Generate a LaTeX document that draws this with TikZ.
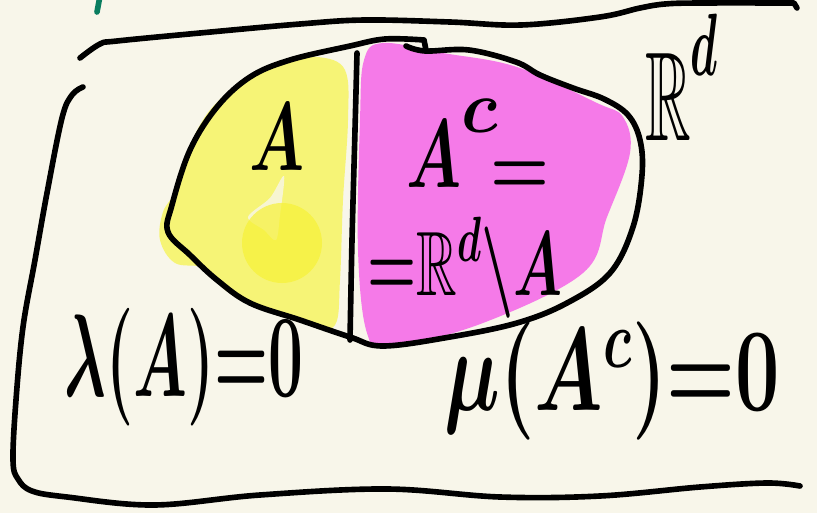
\RequirePackage{fix-cm}
\documentclass[tikz,border=0pt]{standalone}
\usepackage{amsmath}
\usepackage{amssymb}
\usepackage{xcolor}
\usepackage{tikz}
\definecolor{paper}{RGB}{248,246,234}
\definecolor{hlYellow}{RGB}{246,244,118}
\definecolor{hlDeep}{RGB}{246,242,55}
\definecolor{hlPink}{RGB}{245,122,232}
\definecolor{inkGreen}{RGB}{10,125,95}

\begin{document}
\begin{tikzpicture}[
  x=0.025cm, y=-0.025cm,
  pen/.style={line width=4pt, line cap=round, line join=round},
  letter/.style={inner sep=0pt, anchor=base, font=\fontsize{60}{60}\selectfont\boldmath},
  formula/.style={inner sep=0pt, anchor=base, font=\fontsize{50}{50}\selectfont\boldmath},
]
  \fill[paper] (0,0) rectangle (817,513);
  \useasboundingbox (0,0) rectangle (817,513);

  % highlighter marks
  \fill[hlYellow] plot[smooth cycle, tension=0.6] coordinates {
    (318,57) (345,70) (348,120) (343,200) (340,280) (335,325) (310,325)
    (260,308) (225,290) (205,268) (175,263) (160,240) (163,212) (176,190)
    (188,150) (210,110) (245,80) (285,62)};
  \fill[paper, opacity=0.8] plot[smooth cycle, tension=0.5] coordinates {
    (284,176) (280,215) (276,240) (264,230) (248,217) (270,198)};
  \fill[hlDeep, opacity=0.7] (282,243) circle (40);
  \fill[hlPink] plot[smooth cycle, tension=0.6] coordinates {
    (383,43) (443,53) (517,67) (597,103) (623,117) (630,153) (607,217)
    (583,273) (483,323) (390,347) (367,333) (358,250) (360,120) (364,60)};

  % the set and its split
  \draw[pen] plot[smooth, tension=0.6] coordinates {
    (406,46) (425,51) (469,50) (516,62) (540,75) (573,88) (604,99)
    (628,115) (640,140) (642,175) (633,227) (610,273) (567,303) (517,323)
    (450,337) (383,346) (350,337) (300,320) (250,303) (217,280) (190,255)
    (168,232) (172,205) (190,150) (217,107) (250,77) (290,60) (350,46)
    (385,39) (424,40)} -- (426,50);
  \draw[pen] plot[smooth] coordinates {(357,53) (355,130) (352,240) (350,340)};

  % frame
  \draw[pen] plot[smooth, tension=0.6] coordinates {
    (80,58) (100,44) (117,41) (200,33) (300,24) (365,20) (450,22)
    (521,25) (600,17) (640,8) (665,4) (700,3) (794,3)} -- (797,8);
  \draw[pen] plot[smooth, tension=0.6] coordinates {
    (83,87) (72,95) (62,118) (47,193) (35,260) (23,327) (16,400) (13,460)
    (18,479) (32,491) (67,497) (154,505) (260,495) (387,489) (500,497)
    (600,496) (700,487) (767,483) (800,486)};
  \draw[pen, inkGreen] (100,-4) -- (97,12);

  % labels
  \node[letter] (setA) at (277,170) {\scalebox{0.75}[1.15]{$A$}};
  \node[letter, anchor=base west] (compl) at (406,187)
    {\scalebox{0.75}[1.15]{$A^{\raisebox{0.2em}{\scalebox{1.6}[1.1]{$\scriptstyle c$}}}$}};
  \node[letter, anchor=center] (eqA) at (520,178) {\scalebox{0.8}[1]{$=$}};
  \node[formula] (diff) at (465,295)
    {\scalebox{0.8}[1.3]{${=}\mathbb{R}^{d}{\setminus}A$}};
  \node[letter, anchor=base west] (space) at (645,140)
    {\scalebox{0.75}[1.5]{$\mathbb{R}^{\raisebox{0.15em}{$\scriptstyle d$}}$}};
  \node[formula, font=\fontsize{44}{44}\selectfont\boldmath] (leb) at (184,396)
    {\scalebox{1}[1.9]{$\lambda(A){=}0$}};
  \node[formula, font=\fontsize{56}{56}\selectfont\boldmath] (meas) at (612,410)
    {\scalebox{1}[1.5]{$\mu(A^{c}){=}0$}};
\end{tikzpicture}
\end{document}
